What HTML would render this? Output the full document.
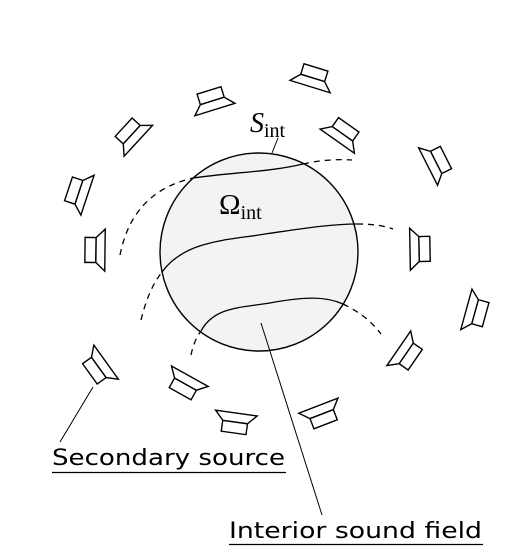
<!DOCTYPE html>
<html><head><meta charset="utf-8"><style>
html,body{margin:0;padding:0;background:#fff;}
svg{display:block;}
</style></head><body>
<svg width="511" height="553" viewBox="0 0 511 553" xmlns="http://www.w3.org/2000/svg">
<circle cx="259" cy="252" r="99" fill="#f3f3f3" stroke="#000" stroke-width="1.4"/>
<g fill="none" stroke="#000" stroke-width="1.3">
<path d="M120,255 C128,215 150,188 193,178" stroke-dasharray="6,5"/>
<path d="M193,178 C235,172 270,172 303,164"/>
<path d="M303,164 C320,160 338,159 352,160" stroke-dasharray="6,5"/>
<path d="M141,320 C146,300 152,285 162,272" stroke-dasharray="6,5"/>
<path d="M162,272 C185,240 230,240 265,234 C300,229 330,224 357,224"/>
<path d="M357,224 C370,224 382,225 393,229" stroke-dasharray="6,5"/>
<path d="M191,355 C193,345 197,336 201,331" stroke-dasharray="6,5"/>
<path d="M201,331 C215,305 245,308 275,302 C305,297 325,296 343,304"/>
<path d="M343,304 C360,312 372,322 381,334" stroke-dasharray="6,5"/>
</g>
<g id="spk" fill="#fff" stroke="#000" stroke-width="1.4"></g>
<g stroke="#000" stroke-width="1">
<line x1="272" y1="153" x2="278" y2="138"/>
<line x1="93" y1="387" x2="60" y2="442"/>
<line x1="261" y1="323" x2="322" y2="515"/>
</g>
<text x="250" y="132" font-family="Liberation Serif, serif" font-size="28" font-style="italic">S<tspan font-style="normal" font-size="20" dy="5">int</tspan></text>
<text x="219" y="214" font-family="Liberation Serif, serif" font-size="29">Ω<tspan font-size="20" dy="5">int</tspan></text>
<text x="52" y="465" font-family="DejaVu Sans, sans-serif" font-size="22" textLength="233" lengthAdjust="spacingAndGlyphs">Secondary source</text>
<line x1="52" y1="472.5" x2="286" y2="472.5" stroke="#000" stroke-width="1.2"/>
<text x="229" y="538" font-family="DejaVu Sans, sans-serif" font-size="22" textLength="253" lengthAdjust="spacingAndGlyphs">Interior sound field</text>
<line x1="229" y1="544.5" x2="483" y2="544.5" stroke="#000" stroke-width="1.2"/>
</svg>
<script>
const speakerX=[95,78,131,212,313,343,437,420,476,407,322,235,185,98];
const speakerY=[250,192,134,100,77,133,162,249,312,354,415,423,385,368];
const cx=259,cy=252;
const g=document.getElementById('spk');
const NS='http://www.w3.org/2000/svg';
for(let i=0;i<speakerX.length;i++){
  const x=speakerX[i],y=speakerY[i];
  const a=Math.atan2(cy-y,cx-x)*180/Math.PI;
  const grp=document.createElementNS(NS,'g');
  
  
  grp.setAttribute('transform','translate('+x+','+y+') rotate('+a+')');
  const r=document.createElementNS(NS,'rect');
  r.setAttribute('x',-10);r.setAttribute('y',-12.5);r.setAttribute('width',11);r.setAttribute('height',25);
  
  
  const p=document.createElementNS(NS,'polygon');
  p.setAttribute('points','1,-12.5 10,-21 10,21 1,12.5');
  
  
  grp.appendChild(r);grp.appendChild(p);g.appendChild(grp);
}
</script>
</body></html>
